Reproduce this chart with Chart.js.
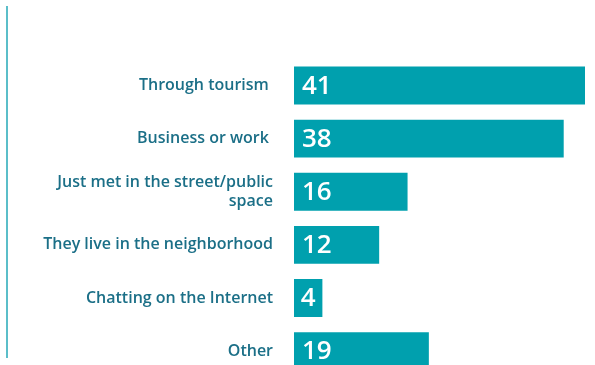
<!DOCTYPE html>
<html>
<head>
<meta charset="utf-8">
<script src="https://cdn.jsdelivr.net/npm/chart.js@4"></script>
<style>
  html, body { margin: 0; padding: 0; background: #fff; overflow: hidden; }
  #wrap { position: relative; width: 595px; height: 400px; }
  #rule { position: absolute; left: 6px; top: 6px; width: 2px; height: 352px; background: #5bbec9; }
</style>
</head>
<body>
<div id="wrap">
  <div id="rule"></div>
  <canvas id="meetChart"></canvas>
</div>
<script>
// ========== HOW THEY MET ==========

const categories = [
  "Through tourism ",
  "Business or work ",
  ["Just met in the street/public", "space"],
  "They live in the neighborhood",
  "Chatting on the Internet",
  "Other",
];
const values = [41, 38, 16, 12, 4, 19];

const BAR = "#00a0ae";
const LABEL = "#1b6f87";

// white value printed at the start of each bar
const valueLabels = {
  id: "valueLabels",
  afterDatasetsDraw(chart) {
    const ctx = chart.ctx;
    const meta = chart.getDatasetMeta(0);
    ctx.save();
    ctx.font = "600 26px 'Open Sans'";
    ctx.fillStyle = "#fff";
    ctx.textBaseline = "middle";
    meta.data.forEach((bar, i) => {
      const txt = String(values[i]);
      const w = ctx.measureText(txt).width;
      const len = bar.x - bar.base;
      let x = bar.base + 8;
      if (len < w + 16) x = bar.base + (len - w) / 2;
      ctx.fillText(txt, x, bar.y + 1);
    });
    ctx.restore();
  },
};

new Chart(document.getElementById("meetChart"), {
  type: "bar",
  data: {
    labels: categories,
    datasets: [
      {
        data: values,
        backgroundColor: BAR,
        barPercentage: 0.714,
        categoryPercentage: 1,
      },
    ],
  },
  options: {
    indexAxis: "y",
    responsive: true,
    maintainAspectRatio: false,
    animation: false,
    layout: { padding: { top: 59, bottom: 4, left: 0, right: 10 } },
    plugins: { legend: { display: false }, tooltip: { enabled: false } },
    scales: {
      x: { display: false, min: 0, max: 41 },
      y: {
        afterFit: (s) => { s.width = 294; },
        grid: { display: false },
        border: { display: false },
        ticks: {
          color: LABEL,
          padding: 13,
          font: { family: "'Open Sans'", size: 16, weight: "600", lineHeight: 1.17 },
        },
      },
    },
  },
  plugins: [valueLabels],
});
</script>
</body>
</html>
